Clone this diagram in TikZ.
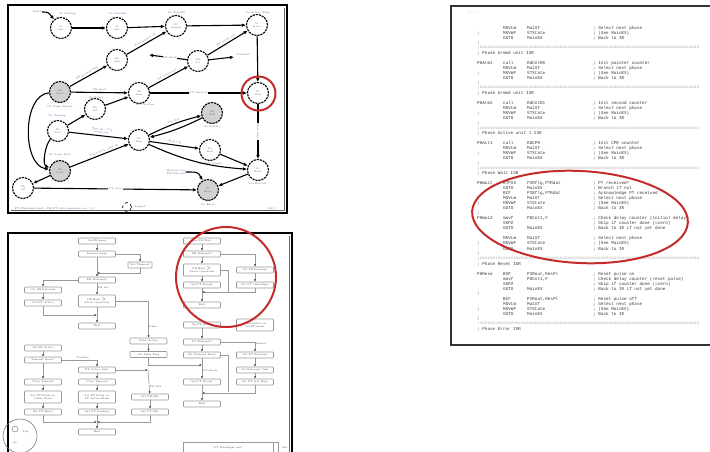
\documentclass[tikz,border=0pt]{standalone}
\usepackage{fontspec}
\setmonofont{Liberation Mono}
\usetikzlibrary{arrows.meta,calc}
\definecolor{ringred}{HTML}{C42B2B}
\definecolor{stc}{HTML}{5A5A8C}
\definecolor{labc}{HTML}{5F5F9A}
\definecolor{codec}{HTML}{3A3A3A}
\definecolor{boxc}{HTML}{9A9A9A}
\newcommand\eqstr{=====================================================================================}
\newcommand\codeln[5]{\node[code] (cl#1) at (477,{28+5.02*#1}) {\makebox[26pt][l]{#2}\makebox[24pt][l]{#3}\makebox[66pt][l]{#4}#5};}
\newcommand\eqln[1]{\node[code, text=black!45] (cl#1) at (477,{28+5.02*#1}) {;\eqstr};}
\begin{document}
\begin{tikzpicture}[x=1pt,y=-1pt,
  st/.style={circle, draw, line width=1.1pt, dash pattern=on 2.2pt off 0.9pt, minimum size=21pt, inner sep=0pt, fill=white, font=\fontsize{2.4}{2.8}\selectfont, text=stc, align=center},
  stg/.style={st, fill=black!18},
  lab/.style={font=\fontsize{2.6}{3}\selectfont, text=labc, inner sep=0.4pt, align=center},
  tr/.style={line width=1.1pt, -{Latex[length=4pt,width=3.6pt]}},
  fb/.style={draw=boxc, rounded corners=0.8pt, line width=0.6pt, minimum width=37pt, minimum height=6pt, inner sep=0.3pt, font=\fontsize{2.5}{2.9}\selectfont, text=black!75, fill=white, align=center},
  fb2/.style={fb, minimum height=12pt},
  fl/.style={draw=boxc, line width=0.6pt, -{Latex[length=2.4pt,width=2.2pt,color=black!75]}},
  fn/.style={draw=boxc, line width=0.6pt},
  lab2/.style={font=\fontsize{2.5}{2.9}\selectfont, text=black!70, inner sep=0.5pt},
  code/.style={anchor=west, font=\ttfamily\fontsize{4.3}{5}\selectfont, text=codec, inner sep=0pt},
  ring/.style={draw=ringred, line width=2pt}]
\useasboundingbox (0,0) rectangle (710,452);
\fill[white] (0,0) rectangle (710,452);

% ================= panel 1 : state diagram =================
\draw[line width=2pt] (8,5) rectangle (287,213);
\draw[line width=0.5pt, black!60] (284,8) -- (284,210) -- (11,210);

\node[st]  (n1)  at (61,28)   {St\\Init};
\node[st]  (n2)  at (117,28)  {St\\Idle};
\node[st]  (n3)  at (176,26)  {St\\Armed};
\node[st]  (n4)  at (257,25)  {St\\Active};
\node[st]  (n5)  at (117,60)  {Ph\\Chk};
\node[st]  (n6)  at (198,61)  {Ph\\Act};
\node[stg] (n7)  at (60,92)   {Ph\\Start};
\node[st]  (n8)  at (139,93)  {Ph\\Arm};
\node[st]  (n9)  at (258,93)  {St\\Wait};
\node[st]  (n10) at (95,109)  {Ph\\Sel};
\node[st]  (n11) at (58,131)  {Ph\\Test};
\node[st]  (n12) at (139,140) {Ph\\Run};
\node[stg] (n13) at (212,113) {Ph\\Fail};
\node[st]  (n14) at (210,150) {Ph\\Halt};
\node[st]  (n15) at (258,170) {St\\Reset};
\node[stg] (n16) at (208,190) {St\\Error};
\node[stg] (n17) at (60,171)  {Ph\\Load};
\node[st]  (n18) at (23,188)  {Ph\\Off};

\node[lab] (t1)  at (68,14)   {So Startup};
\node[lab] (t2)  at (118,14)  {So Standby};
\node[lab] (t3)  at (177,13)  {So Standby};
\node[lab] (t4)  at (258,13)  {So Active Time};
\node[lab] (t7)  at (60,107)  {Go Time Switch};
\node[lab] (t10) at (96,98)   {Go Select};
\node[lab] (t8)  at (145,105) {Go Ph Arm};
\node[lab] (t11) at (57,116)  {Go Testing};
\node[lab] (t13) at (212,127) {Go Failure};
\node[lab] (t14) at (210,164) {Go Halt Count};
\node[lab] (t15) at (258,184) {Go Restart};
\node[lab] (t16) at (208,205) {Go Error};
\node[lab] (t17) at (60,155)  {Go Load Data};

\node[lab, anchor=east] (lin) at (42,12) {Reset};
\draw[tr] (lin.east) .. controls (48,12) .. (n1);
\draw[tr] (n1) -- (n2);
\draw[tr] (n2) -- (n3);
\draw[tr] (n3) -- (n4);
\draw[tr] (n4) -- (n9);
\draw[tr] (n9) -- node[lab, sloped, fill=white] {Wait done} (n15);
\draw[tr] (n5) -- node[lab, sloped, above=1pt] {Arm request ok} (n3);
\draw[tr] (n7) -- node[lab, sloped, above=1pt] {PB pressed long} (n5);
\draw[tr] (n8) -- node[lab, sloped, above=1pt] {PT active set} (n6);
\draw[tr] (n6) -- node[lab, sloped, above=1pt] {PT ready ack} (n4);
\coordinate (ex1) at (234,57);
\draw[tr] (n6) -- (ex1);
\node[lab, anchor=west] (tex1) at (236,55) {Timeout};
\coordinate (ex2) at (149,55);
\draw[tr] (n6) -- node[lab, fill=white, pos=0.45] {PB short} (ex2);
\draw[tr] (n7) -- node[lab, above=1pt] {PB short} (n8);
\draw[tr] (n8) -- node[lab, fill=white] {PT timeout} (n9);
\draw[tr] (n10) -- (n8);
\draw[tr] (n11) -- (n10);
\draw[tr] (n11) -- node[lab, sloped, above=1pt, pos=0.55] {Test ok / PT\\ready set} (n12);
\draw[tr] (n17) -- node[lab, sloped, above=0.8pt, pos=0.6] {Load done / PT ok} (n12);
\draw[tr] (n18) -- node[lab, fill=white] {PT error} (n16);
\draw[tr] (n17) -- (n18);
\draw[tr] (n7) .. controls (22,95) and (22,165) .. (n17);
\draw[tr] (n11) .. controls (45,145) and (42,165) .. (n17);
\draw[tr] (n12) to[bend left=6] node[lab, sloped, above=1pt] {PT fail} (n13);
\draw[tr] (n13) to[bend left=6] (n12);
\draw[tr] (n12) -- node[lab, sloped, above=1pt] {Halt req} (n14);
\draw[tr] (n12) to[bend right=10] (n15);
\draw[tr] (n14) -- (n15);
\draw[tr] (n15) -- (n16);
\node[lab] (tx16) at (176,172) {Restart fail\\PB timeout};
\draw[tr] (tx16.east) .. controls (198,172) .. (n16);
\node[circle, draw, dashed, line width=0.6pt, minimum size=9pt, inner sep=0pt] (sm) at (127,207) {};
\node[lab, anchor=west] (smt) at (134,207) {Legend};
\node[lab, anchor=west] (foot1) at (14,209) {PT Flashlight unit: PB/PT state machine, rev 1.2};
\node[lab] (foot2) at (272,209) {Sht 1};
\draw[ring] (258.5,93.5) circle[radius=17pt];

% ================= panel 2 : flowcharts =================
\draw[line width=2pt] (8,460) -- (8,233) -- (292,233) -- (292,460);
\draw[line width=0.5pt, black!60] (289,236) -- (289,460);

\node[fb]  (b1) at (97,241) {On PB press};
\node[fb]  (b2) at (97,254) {Pressed long?};
\node[fb, minimum width=24pt] (b3) at (140,265) {Set Timeout};
\node[fb]  (b4) at (97,280) {PB Released?};
\node[fb]  (b5) at (43,290) {Clr PB Released};
\node[fb]  (b6) at (43,303) {Set PT Active};
\node[fb2] (b7) at (97,301) {PB Held $>$\\Abort Operation};
\node[fb]  (b8) at (97,326) {Exit};
\coordinate (j1) at (97,273);
\coordinate (j2) at (97,315);
\draw[fl] (b1) -- (b2);
\draw[fl] (b2.east) -| (b3.north);
\draw[fl] (b3.south) |- (j1);
\draw[fl] (b2) -- (b4);
\draw[fl] (b4.west) -| (b5.north);
\draw[fl] (b5) -- (b6);
\draw[fl] (b6.south) |- (j2);
\draw[fl] (b4) -- node[lab2, right, pos=0.35] {PB Act} (b7);
\draw[fl] (b7) -- (b8);

\node[fb]  (c1) at (202,241) {On PB Wait};
\node[fb]  (c2) at (202,254) {PB Released?};
\node[fb2] (c3) at (202,270) {PB Held $>$\\Abort Operation};
\node[fb]  (c4) at (202,285) {Set PT Ready};
\node[fb]  (c5) at (255,270) {Clr PB Released};
\node[fb]  (c6) at (255,285) {Set PT Cmd Busy};
\node[fb]  (c7) at (202,305) {Exit};
\coordinate (j3) at (228,292);
\coordinate (j4) at (202,292);
\draw[fl] (c1) -- (c2);
\draw[fl] (c2.east) -| (c5.north);
\draw[fl] (c2) -- (c3);
\draw[fl] (c3) -- (c4);
\draw[fl] (c5) -- (c6);
\draw[fn] (c3.east) -| (j3);
\draw[fl] (c6.south) |- (j4);
\draw[fl] (c4) -- (c7);

\node[fb]  (d1) at (202,325) {On PT Ready};
\node[fb2] (d2) at (255,325) {Reinitialise on\\SetPT mode};
\node[fb]  (i1) at (202,342) {PT Released?};
\node[fb]  (i2) at (202,355) {Clr Timeout Reset};
\node[fb]  (i3) at (202,382) {Set PT Ready};
\node[fb]  (i4) at (202,404) {Exit};
\node[fb]  (h1) at (148.5,341) {Pulse Active};
\node[fb]  (h2) at (148.5,354.5) {Clr Pulse Flag};
\node[fb]  (jj1) at (255,355) {Clr PT Released};
\node[fb]  (jj2) at (255,370) {Set Released Cmd};
\node[fb]  (jj3) at (255,382) {Set PT Ack Busy};
\coordinate (j5) at (202,365);
\coordinate (j6) at (228,392);
\coordinate (j7) at (202,393);
\draw[fl] (d1) -- (i1);
\draw[fl] (i1.east) -| node[lab2, right, pos=0.6] {Armed} (jj1.north);
\draw[fl] (i1) -- (i2);
\draw[fl] (i2) -- node[lab2, right, pos=0.6] {PT Ready} (i3);
\draw[fl] (jj1) -- (jj2);
\draw[fl] (jj2) -- (jj3);
\draw[fn] (i2.east) -| (j6);
\draw[fl] (jj3.south) |- (j7);
\draw[fl] (i3) -- (i4);
\draw[fl] (b7.east) -| node[lab2, right, pos=0.85] {Pulse} (h1.north);
\draw[fl] (h1) -- (h2);
\draw[fl] (h2.south) |- (j5);

\node[fb]  (e1) at (43,348) {On PB Active};
\node[fb]  (e2) at (43,360) {Timeout Reset?};
\node[fb]  (e3) at (97,370) {PT Active Ack?};
\node[fb]  (e4) at (43,382) {Clear Timeout};
\node[fb2] (e5) at (43,397) {Set PT Flash on\\Other Flash};
\node[fb]  (e6) at (43,412) {Set PT Reset};
\node[fb]  (f1) at (97,382) {Clear Timeout};
\node[fb2] (f2) at (97,397) {Set PT Flash on\\PT Active Flash};
\node[fb]  (f3) at (97,412) {Set PT Pending};
\node[fb]  (g1) at (97,432) {Exit};
\node[fb]  (k1) at (150,397) {Set PB Idle};
\node[fb]  (k2) at (150,412) {Set PT Idle};
\coordinate (j8) at (97,422);
\coordinate (j9) at (148,370);
\draw[fl] (e1) -- (e2);
\draw[fl] (e2.east) -| node[lab2, above, pos=0.3] {Pending} (e3.north);
\draw[fl] (e2) -- (e4);
\draw[fl] (e4) -- (e5);
\draw[fl] (e5) -- (e6);
\draw[fl] (e3) -- (f1);
\draw[fl] (f1) -- (f2);
\draw[fl] (f2) -- (f3);
\draw[fl] (e6.south) |- (j8);
\draw[fl] (k2.south) |- (j8);
\draw[fl] (f3) -- (g1);
\draw[fl] (e3.east) -- (j9);
\draw[fl] (j9) -- node[lab2, right, pos=0.7] {PB Ack} (k1);
\draw[fl] (k1) -- (k2);

\node[circle, draw=black!60, line width=0.5pt, minimum size=34pt, inner sep=0pt] (cmp) at (20,436) {};
\node[circle, draw=black!60, line width=0.4pt, minimum size=6pt, inner sep=0pt] (cmp2) at (15,429) {};
\node[lab2, anchor=west] (cmpt) at (22,432) {Top};
\node[lab2] (cmpt2) at (15,443) {Ao};
\draw[fn] (183,442) rectangle (273,460);
\draw[fn] (273,442) rectangle (278,460);
\node[lab2] (ttl) at (228,448) {PT Flashlight unit};
\node[lab2] (ttl2) at (285,448) {Sht};
\draw[ring] (226,277) circle[radius=50pt];

% ================= panel 3 : code listing =================
\draw[line width=2pt, black!80] (451,6) rectangle (713,345);
\node[font=\ttfamily\fontsize{3}{3}\selectfont, text=black!45, anchor=west] (hdr) at (464,12) {;-----};
\codeln{0}{}{MOVLW}{Ma1ST}{; Select next phase}
\codeln{1}{;}{MOVWF}{STState}{; (See MainEX)}
\codeln{2}{}{GOTO}{MainEX}{; Back to IR}
\codeln{3}{;}{}{}{}
\eqln{4}
\codeln{5}{; Phase Armed unit ISR}{}{}{}
\codeln{7}{PHArm1}{call}{RdCntR0}{; Init pointer counter}
\codeln{8}{}{MOVLW}{Ma1ST}{; Select next phase}
\codeln{9}{;}{MOVWF}{STState}{; (See MainEX)}
\codeln{10}{}{GOTO}{MainEX}{; Back to IR}
\codeln{11}{;}{}{}{}
\eqln{12}
\codeln{13}{; Phase Armed unit ISR}{}{}{}
\codeln{15}{PHArm2}{call}{RdCntR1}{; Init second counter}
\codeln{16}{}{MOVLW}{Ma1ST}{; Select next phase}
\codeln{17}{;}{MOVWF}{STState}{; (See MainEX)}
\codeln{18}{}{GOTO}{MainEX}{; Back to IR}
\codeln{19}{;}{}{}{}
\eqln{20}
\codeln{21}{; Phase Active unit 1 ISR}{}{}{}
\codeln{23}{PHAct1}{call}{RdCPR}{; Init CPR counter}
\codeln{24}{}{MOVLW}{Ma1ST}{; Select next phase}
\codeln{25}{;}{MOVWF}{STState}{; (See MainEX)}
\codeln{26}{}{GOTO}{MainEX}{; Back to IR}
\codeln{27}{;}{}{}{}
\eqln{28}
\codeln{29}{; Phase Wait ISR}{}{}{}
\codeln{31}{PHWait}{BTFSS}{PIRflg,PTRdat}{; PT received?}
\codeln{32}{}{GOTO}{MainEX}{; Branch if not}
\codeln{33}{}{BCF}{PIRflg,PTRdat}{; Acknowledge PT received}
\codeln{34}{}{MOVLW}{Ma1ST}{; Select next phase}
\codeln{35}{;}{MOVWF}{STState}{; (See MainEX)}
\codeln{36}{}{GOTO}{MainEX}{; Back to IR}
\codeln{37}{;}{}{}{}
\codeln{38}{PHWai2}{movf}{PDCnt1,F}{; Check delay counter (initial delay)}
\codeln{39}{}{SKPZ}{}{; Skip if counter done (=zero)}
\codeln{40}{}{GOTO}{MainEX}{; Back to IR if not yet done}
\codeln{42}{}{MOVLW}{Ma1ST}{; Select next phase}
\codeln{43}{;}{MOVWF}{STState}{; (See MainEX)}
\codeln{44}{}{GOTO}{MainEX}{; Back to IR}
\codeln{45}{;}{}{}{}
\eqln{46}
\codeln{47}{; Phase Reset ISR}{}{}{}
\codeln{49}{PHRese}{BSF}{PIRout,ResPl}{; Reset pulse on}
\codeln{50}{}{movf}{PDCnt1,F}{; Check delay counter (reset pulse)}
\codeln{51}{}{SKPZ}{}{; Skip if counter done (=zero)}
\codeln{52}{}{GOTO}{MainEX}{; Back to IR if not yet done}
\codeln{53}{;}{}{}{}
\codeln{54}{}{BCF}{PIRout,ResPl}{; Reset pulse off}
\codeln{55}{}{MOVLW}{Ma1ST}{; Select next phase}
\codeln{56}{;}{MOVWF}{STState}{; (See MainEX)}
\codeln{57}{}{GOTO}{MainEX}{; Back to IR}
\codeln{58}{;}{}{}{}
\eqln{59}
\codeln{60}{; Phase Error ISR}{}{}{}
\draw[ring, rotate around={-3:(580,217)}] (580,217) ellipse [x radius=108pt, y radius=46pt];
\end{tikzpicture}
\end{document}
